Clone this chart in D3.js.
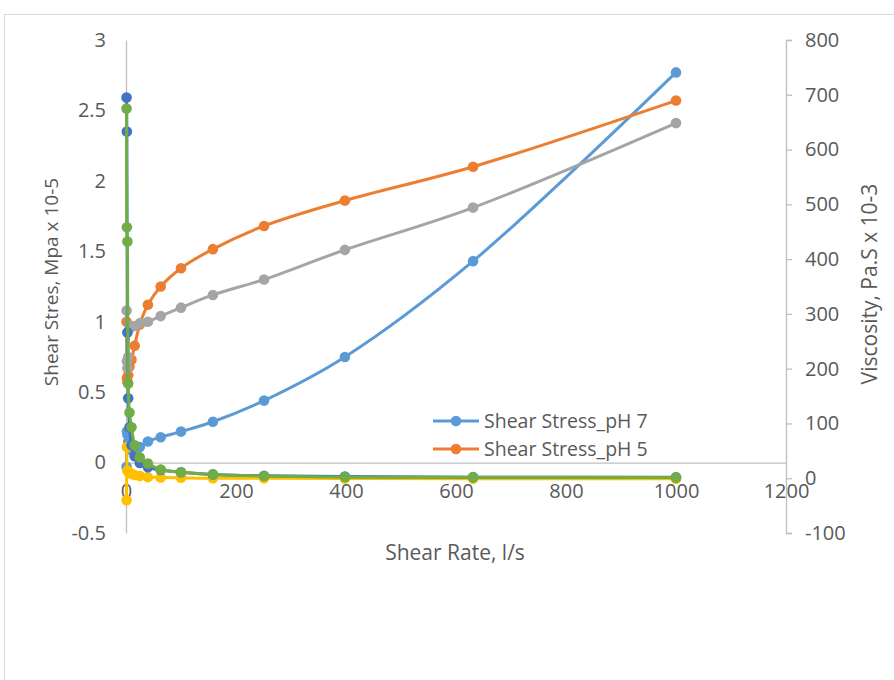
<!DOCTYPE html>
<html>
<head>
<meta charset="utf-8">
<script src="https://cdn.jsdelivr.net/npm/d3@7"></script>
<style>
  html, body { margin: 0; padding: 0; background: #fff; }
  svg { display: block; font-family: "Open Sans", "Liberation Sans", sans-serif; }
</style>
</head>
<body>
<svg id="chart" width="894" height="680"></svg>
<script>
// ---- data ----
const shearRate = [1, 1.58, 2.51, 3.98, 6.31, 10, 15.8, 25.1, 39.8, 63.1, 100, 158, 251, 398, 631, 1000];

// primary axis (Shear stress, Mpa x 10-5)
const stressPH7 = [-0.03, 0.22, 0.2, 0.15, 0.11, 0.085, 0.085, 0.11, 0.15, 0.18, 0.22, 0.29, 0.44, 0.75, 1.43, 2.77];
const stressPH5 = [1.0, 0.6, 0.57, 0.62, 0.68, 0.73, 0.83, 0.98, 1.12, 1.25, 1.38, 1.515, 1.68, 1.86, 2.10, 2.57];
const stressPH3 = [1.08, 0.72, 0.67, 0.75, 0.95, 0.97, 0.97, 0.99, 1.0, 1.04, 1.10, 1.19, 1.30, 1.51, 1.81, 2.41];

// secondary axis (Viscosity, Pa.S x 10-3)
const viscA = [-40, 57, 14, 12, 10, 8, 6, 4, 2, 1.5, 1, 0, 0, -0.5, -1, -1];
const viscB = [695, 633, 266, 146, 93, 60, 40, 28, 20, 15, 11, 7, 4.5, 3, 2, 1.8];
const viscC = [675, 458, 432, 173, 120, 93, 60, 38, 27, 16, 11, 7, 4, 2, 1.8, 1.5];

const xTicks = [0, 200, 400, 600, 800, 1000, 1200];
const yLeftTicks = [-0.5, 0, 0.5, 1, 1.5, 2, 2.5, 3];
const yRightTicks = [-100, 0, 100, 200, 300, 400, 500, 600, 700, 800];

const series = [
  { name: "Shear Stress_pH 7", values: stressPH7, axis: "L", color: "#5B9BD5" },
  { name: "Shear Stress_pH 5", values: stressPH5, axis: "L", color: "#ED7D31" },
  { name: "Shear Stress_pH 3", values: stressPH3, axis: "L", color: "#A5A5A5" },
  { name: "Viscosity_pH 3", values: viscA, axis: "R", color: "#FFC000" },
  { name: "Viscosity_pH 7", values: viscB, axis: "R", color: "#4472C4" },
  { name: "Viscosity_pH 5", values: viscC, axis: "R", color: "#70AD47" }
];
const legendNames = ["Shear Stress_pH 7", "Shear Stress_pH 5"];

// ---- layout ----
const svg = d3.select("#chart");
const textColor = "#595959";
const axisColor = "#BFBFBF";

svg.append("rect").attr("x", 4.5).attr("y", 14.5).attr("width", 1000).attr("height", 1000)
  .attr("fill", "#fff").attr("stroke", "#D9D9D9").attr("stroke-width", 1);

const x = d3.scaleLinear().domain([0, 1200]).range([126, 786]);
const yL = d3.scaleLinear().domain([-0.5, 3]).range([533, 40]);
const yR = d3.scaleLinear().domain([-100, 800]).range([533, 40]);

function styleAxis(g) {
  g.selectAll("path.domain").attr("stroke", axisColor).attr("stroke-width", 1.3);
  g.selectAll(".tick line").attr("stroke", axisColor).attr("stroke-width", 1.3);
  g.selectAll(".tick text").attr("fill", textColor).style("font-size", "20px")
    .style("font-family", "'Open Sans', 'Liberation Sans', sans-serif");
}

// left axis
const gL = svg.append("g").attr("transform", `translate(${x(0)},0)`)
  .call(d3.axisLeft(yL).tickValues(yLeftTicks).tickSize(0).tickSizeOuter(0).tickPadding(20)
    .tickFormat(d => String(d)));
styleAxis(gL);

// bottom axis at y = 0
const gB = svg.append("g").attr("transform", `translate(0,${yL(0)})`)
  .call(d3.axisBottom(x).tickValues(xTicks).tickSize(0).tickSizeOuter(0).tickPadding(21)
    .tickFormat(d => String(d)));
styleAxis(gB);

// right axis
const gR = svg.append("g").attr("transform", `translate(${x(1200)},0)`)
  .call(d3.axisRight(yR).tickValues(yRightTicks).tickSize(6).tickSizeOuter(6).tickPadding(13)
    .tickFormat(d => String(d)));
styleAxis(gR);

// axis titles
svg.append("text").attr("transform", "translate(58,282) rotate(-90)")
  .attr("text-anchor", "middle").attr("fill", textColor).style("font-size", "19px")
  .text("Shear Stres, Mpa x 10-5");
svg.append("text").attr("transform", "translate(877,284) rotate(-90)")
  .attr("text-anchor", "middle").attr("fill", textColor).style("font-size", "21px")
  .text("Viscosity, Pa.S x 10-3");
svg.append("text").attr("x", 455).attr("y", 560)
  .attr("text-anchor", "middle").attr("fill", textColor).style("font-size", "21px")
  .text("Shear Rate, l/s");

// series
const plot = svg.append("g");
series.forEach(s => {
  const yS = s.axis === "L" ? yL : yR;
  const pts = shearRate.map((r, i) => ({ x: r, v: s.values[i] }));
  const line = d3.line().x(d => x(d.x)).y(d => yS(d.v)).curve(d3.curveCatmullRom.alpha(0.5));
  const g = plot.append("g");
  g.append("path").datum(pts).attr("d", line).attr("fill", "none")
    .attr("stroke", s.color).attr("stroke-width", 3).attr("stroke-linejoin", "round");
  g.selectAll("circle").data(pts).join("circle")
    .attr("cx", d => x(d.x)).attr("cy", d => yS(d.v)).attr("r", 5.3).attr("fill", s.color);
});

// legend
const leg = svg.append("g");
legendNames.forEach((name, i) => {
  const s = series.find(d => d.name === name);
  const ly = 421 + i * 28;
  leg.append("line").attr("x1", 433).attr("x2", 479).attr("y1", ly).attr("y2", ly)
    .attr("stroke", s.color).attr("stroke-width", 3);
  leg.append("circle").attr("cx", 456).attr("cy", ly).attr("r", 5.3).attr("fill", s.color);
  leg.append("text").attr("x", 484).attr("y", ly).attr("dy", "0.35em")
    .attr("fill", textColor).style("font-size", "19.5px").text(name);
});
</script>
</body>
</html>
